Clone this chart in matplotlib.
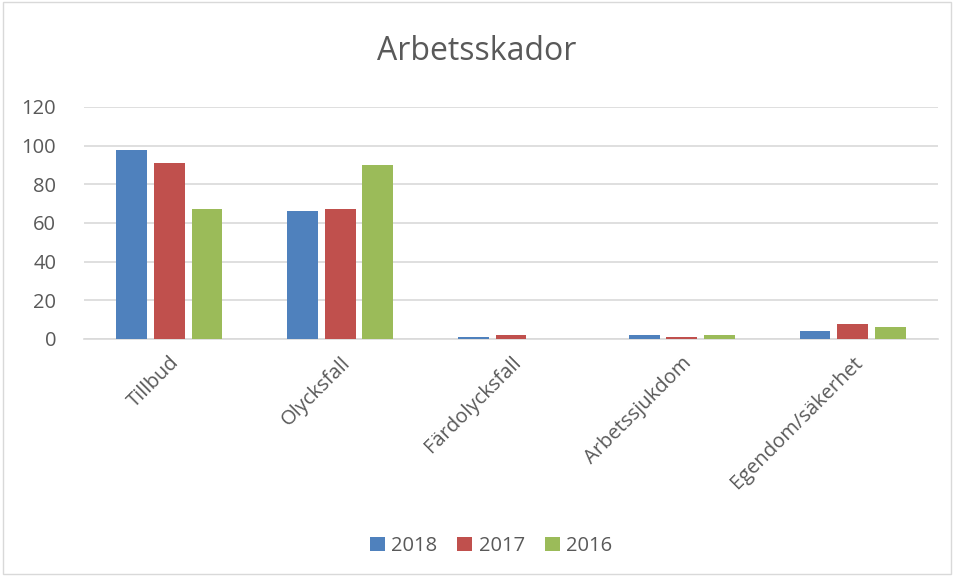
import matplotlib.pyplot as plt
import numpy as np

categories = ['Tillbud', 'Olycksfall', 'Färdolycksfall', 'Arbetssjukdom', 'Egendom/säkerhet']
years = ['2018', '2017', '2016']
v2018 = [98, 66, 1, 2, 4]
v2017 = [91, 67, 2, 1, 8]
v2016 = [67, 90, 0, 2, 6]
colors = ['#4f81bd', '#c0504d', '#9bbb59']

plt.rcParams['font.family'] = ['Open Sans', 'DejaVu Sans']
txt = '#595959'

fig = plt.figure(figsize=(9.54, 5.76), dpi=100)
ax = fig.add_axes([84 / 954, 1 - 339 / 576, 854 / 954, 232 / 576])

x = np.arange(len(categories))
w = 0.18
step = 0.22
for i, (vals, lab) in enumerate(zip([v2018, v2017, v2016], years)):
    ax.bar(x + (i - 1) * step, vals, w, color=colors[i], label=lab, zorder=3)

ax.set_xlim(-0.5, len(categories) - 0.5)
ax.set_ylim(0, 120)
ax.set_yticks(range(0, 121, 20))
ax.yaxis.grid(True, color='#d9d9d9', linewidth=1.2, zorder=0)
for s in ['top', 'right', 'left']:
    ax.spines[s].set_visible(False)
ax.spines['bottom'].set_color('#d9d9d9')
ax.spines['bottom'].set_linewidth(1.2)
ax.tick_params(axis='both', length=0, colors=txt, labelsize=14.5)
ax.tick_params(axis='y', pad=20)
ax.set_xticks(x)
ax.set_xticklabels(categories, rotation=45, ha='right', rotation_mode='anchor')
ax.tick_params(axis='x', pad=10)

fig.text(0.5, 1 - 52 / 576, 'Arbetsskador', ha='center', va='center', fontsize=23, color=txt)

handles, labels = ax.get_legend_handles_labels()
fig.legend(handles, labels, loc='center', bbox_to_anchor=(491 / 954, 1 - 546 / 576), ncol=3,
           frameon=False, fontsize=14.5, labelcolor=txt, handlelength=0.75, handleheight=0.75,
           handletextpad=0.3, columnspacing=1.0)

border = plt.Rectangle((0.003, 0.003), 0.994, 0.994, transform=fig.transFigure,
                       fill=False, edgecolor='#d9d9d9', linewidth=1)
fig.patches.append(border)

fig.savefig('out.png', dpi=100)
